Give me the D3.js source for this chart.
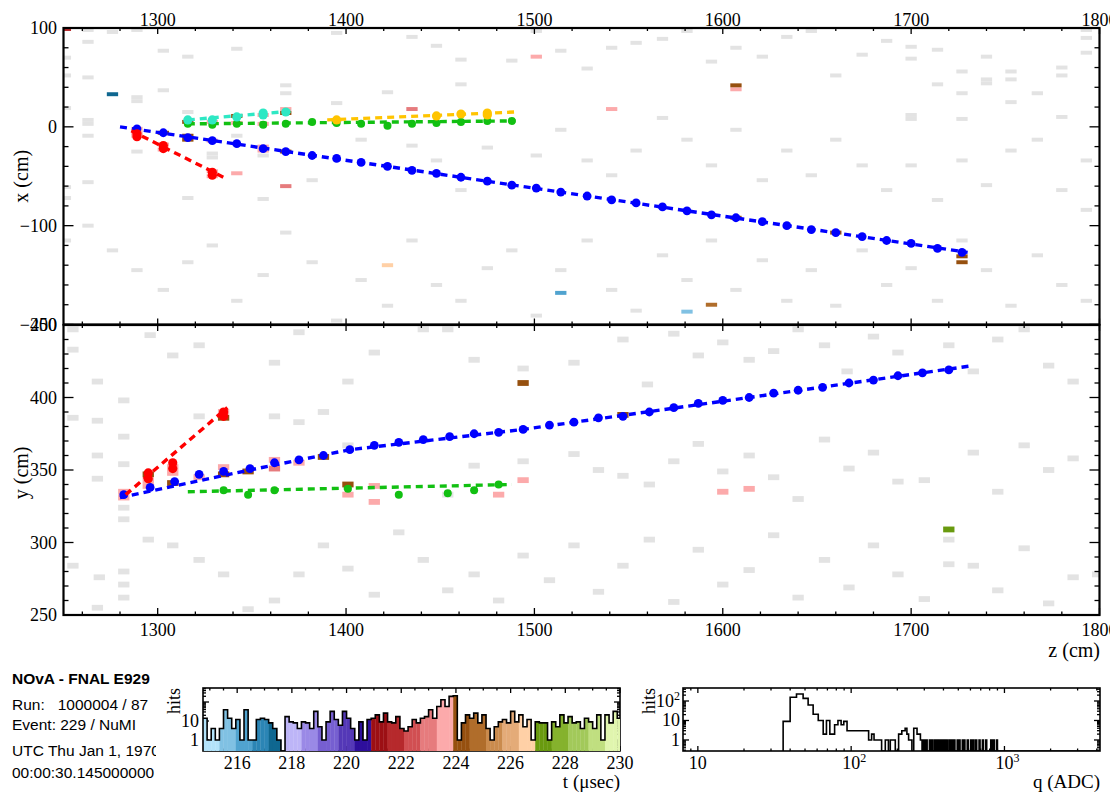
<!DOCTYPE html>
<html><head><meta charset="utf-8">
<script src="https://cdn.jsdelivr.net/npm/d3@7"></script>
<style>
body{margin:0;background:#fff}
svg{display:block}
text{font-family:"Liberation Serif","Times New Roman",serif;fill:#000}
.sans{font-family:"Liberation Sans",Arial,sans-serif;white-space:pre}
</style>
</head><body>
<svg id="c" width="1116" height="792"></svg>
<script>
// ---------------- DATA ----------------
const zTicksMajor = [1300,1400,1500,1600,1700,1800];
const xTicksMajor = [100,0,-100,-200];
const yTicksMajor = [250,300,350,400,450];
const tTicksMajor = [216,218,220,222,224,226,228,230];

// time colour bands (25 shades over the time window)
const timeColors = ["#b3e3fa","#80c1e3","#50a3cf","#2b85b5","#0f6790",
  "#bdb5f7","#9a89e6","#765fd1","#5438b7","#2e0f9c",
  "#9c0f14","#b6292c","#d14f52","#e67b7d","#fcaaab",
  "#96500f","#b06d2b","#ca8b4d","#e4ab78","#ffd0a6",
  "#699a0f","#85b22d","#a2c95a","#c0df80","#e0f5ae"];

// out-of-time (grey) hits, top view (z, x)
const grayTopZ = [1263,1263,1276,1289,1303,1316,1342,1368,1368,1263,1251,1251,1251,1263,1263,1263,1289,1289,1303,1316,1342,1329,1329,1289,1356,1251,1263,1316,1356,1251,1395,1395,1395,1435,1448,1461,1461,1488,1501,1514,1528,1541,1554,1568,1581,1594,1607,1621,1634,1647,1660,1674,1687,1700,1700,1714,1714,1727,1727,1740,1740,1740,1753,1753,1753,1767,1780,1780,1780,1793,1793,1793,1700,1700,1727,
 1382,1408,1422,1435,1448,1461,1475,1501,1514,1528,1541,1554,1568,1581,1594,1607,1621,1634,1647,1660,1674,1687,1700,1714,1727,1740,1753,1767,1780,1793,1793,
 1251,1263,1276,1289,1303,1316,1329,1342,1356,1368,1382,1395,1408,1422,1435,1448,1461,1475,1488,1501,1514,1528,1541,1554,1568,1581,1594,1607,1621,1634,1647,1660,1674,1687,1700,1714,1727,1740,1753,1767,1780,1793];
const grayTopX = [98,86,96,98,77,71,79,42,34,50,70,52,19,7,3,-9,30,26,37,15,-9,-27,-31,-25,-29,-61,-56,-72,-73,-72,24,7,95,91,82,68,43,67,97,77,59,80,85,89,97,66,80,71,91,97,52,73,87,81,69,78,43,56,34,71,48,44,56,48,25,34,60,52,10,98,90,75,12,8,8,
 -54,-13,35,-19,-34,-64,-21,-29,-3,-34,-49,-24,9,-13,-39,-3,-54,-24,-49,-13,-39,-64,-39,-74,-34,-59,-24,-13,-64,-34,-84,
 -115,-100,-125,-145,-165,-137,-120,-176,-150,-107,-137,-196,-155,-181,-115,-160,-176,-143,-125,-191,-145,-115,-165,-186,-130,-155,-115,-165,-135,-176,-145,-181,-125,-160,-143,-176,-115,-145,-181,-130,-160,-176];

// out-of-time (grey) hits, side view (z, y)
const grayBotZ = [1255,1255,1268,1268,1268,1268,1282,1282,1282,1282,1282,1255,1269,1282,1282,1268,1282,1322,1362,1375,1388,1401,1401,
 1255,1296,1308,1322,1362,1375,1415,1441,1454,1468,1494,1521,1547,1560,1574,1587,1600,1614,1627,1640,1654,1666,1680,1693,1720,1733,1746,1760,1773,1786,
 1454,1468,1494,1521,1534,1547,1561,1574,1587,1600,1614,1627,1640,1654,1667,1680,1693,1707,1733,1746,1760,1773,1786,1720,
 1295,1308,1322,1335,1348,1362,1375,1388,1401,1415,1428,1441,1454,1468,1481,1494,1508,1521,1534,1547,1561,1574,1587,1600,1614,1627,1640,1654,1667,1680,1693,1707,1733,1746,1760,1773,1786,1720,1799];
const grayBotY = [433,386,411,384,360,344,398,373,354,324,316,284,276,280,271,255,262,387,387,383,390,411,367,
 447,443,429,436,424,445,431,447,447,426,420,424,440,409,444,429,438,426,432,447,436,418,442,431,436,418,440,447,422,411,
 333,353,356,361,350,346,340,356,368,349,360,345,330,371,351,362,342,343,362,335,367,350,358,302,
 302,298,288,278,254,260,278,298,282,264,307,288,267,278,260,291,274,298,266,284,302,259,295,271,281,305,262,288,269,298,278,261,284,267,296,258,276,285,278];

// in-time hits with their time (usec), top view
const hitTopZ = [1276,1251,1501,1368,1316,1342,1356,1368,1329,1342,1356,1289,1289,1303,1316,1316,1329,1356,1356,1368,1607,1660,1727,1727,1289,1303,1303,1329,1329,1342,1368,1435,1541,1607,1607,1422,1514,1581,1594];
const hitTopX = [33,99,71,18,5,11,12,14,5,4,3,-2,-6,-6,-9,-13,-14,-20,-24,-25,-92,-107,-131,-137,-9,-18,-23,-45,-50,-47,-60,18,18,38,42,-140,-168,-187,-180];
const hitTopT = [217.7,221.8,223.6,223.6,224.2,224.2,223.6,224.2,223.6,223.6,223.6,223.6,223.6,224.2,224.2,224.2,223.6,223.6,223.6,224.2,224.2,224.2,224.2,224.2,223.6,223.6,223.6,223.6,223.6,223.6,223.0,223.0,223.6,223.6,224.2,226.6,216.4,215.8,224.8];

// in-time hits, side view
const hitBotZ = [1282,1282,1295,1295,1295,1308,1308,1308,1322,1335,1335,1335,1335,1348,1362,1362,1375,1388,1401,1401,1415,1415,1494,1494,1481,1600,1614,1720,1547];
const hitBotY = [335,331,347,343,339,352,348,341,345,347,352,386,390,349,357,351,355,359,340,333,339,328,410,343,333,335,337,309,388];
const hitBotT = [223.6,223.6,224.2,223.6,223.6,223.6,223.6,224.2,223.6,224.2,223.6,224.2,223.6,224.2,223.6,223.0,223.6,224.2,224.2,223.6,223.6,223.6,224.2,223.6,223.6,223.6,223.6,227.3,224.2];

// reconstructed tracks: trajectory points and the hits on them
const blueTopLineZ = [1280,1730], blueTopLineX = [0,-127];
const blueTopZ = [1289,1303,1316,1329,1342,1356,1368,1382,1395,1408,1422,1435,1448,1461,1475,1488,1501,1514,1528,1541,1554,1568,1581,1594,1607,1621,1634,1647,1660,1674,1687,1700,1714,1727];
const blueTopX = [-2,-6,-11,-14,-17,-22,-25,-29,-32,-36,-40,-44,-47,-51,-55,-59,-62,-66,-70,-74,-77,-81,-85,-89,-92,-96,-100,-104,-107,-111,-115,-118,-123,-127];
const redTopLineZ = [1286,1337], redTopLineX = [-4,-53];
const redTopZ = [1289,1289,1303,1303,1329,1329];
const redTopX = [-7,-10,-19,-22,-46,-49];
const greenTopLineZ = [1316,1490], greenTopLineX = [3,6];
const greenTopZ = [1316,1329,1342,1356,1368,1382,1395,1408,1422,1435,1448,1461,1475,1488];
const greenTopX = [3,2,3,2,3,5,4,3,1,3,4,5,6,6];
const cyanTopLineZ = [1316,1372], cyanTopLineX = [7,16];
const cyanTopZ = [1316,1329,1342,1356,1356,1368];
const cyanTopX = [7,7,10,12,14,15];
const goldTopLineZ = [1390,1490], goldTopLineX = [7,15];
const goldTopZ = [1395,1448,1461,1475,1475];
const goldTopX = [7,11,13,14,12];

const blueBotLineZ = [1280,1349,1402,1494,1614,1733], blueBotLineY = [331,350,364,378,400,422];
const blueBotZ = [1282,1296,1309,1322,1335,1349,1362,1375,1388,1402,1415,1428,1441,1455,1468,1481,1494,1508,1521,1534,1547,1561,1574,1587,1600,1614,1627,1640,1653,1667,1680,1693,1706,1720];
const blueBotY = [333,338,342,347,349,351,355,357,360,364,367,369,371,373,375,376,378,381,383,386,387,390,393,396,398,400,403,405,407,410,412,415,417,419];
const redBotLineZ = [1283,1337], redBotLineY = [333,393];
const redBotZ = [1295,1295,1308,1308,1335,1335];
const redBotY = [348,344,355,351,390,387];
const greenBotLineZ = [1316,1488], greenBotLineY = [335,340];
const greenBotZ = [1335,1348,1362,1401,1428,1454,1468,1481];
const greenBotY = [336,333,336,337,333,334,336,340];

// hit-time histogram: bin start, bin width, counts
const timeHistStart = 214.75, timeHistBinWidth = 0.15;
const timeCounts = [14,1,4,1,4,39,14,4,12,1,39,1,1,12,14,12,8,4,1,0,
 17,9,8,4,9,8,4,32,5,1,9,32,12,6,32,14,4,1,9,1,
 12,14,21,9,26,9,8,17,4,3,5,12,8,14,17,39,14,58,132,58,
 197,214,1,8,21,14,26,8,21,4,1,5,9,12,8,32,9,21,5,12,
 1,9,8,8,1,9,5,21,8,17,8,9,4,14,9,4,21,1,21,8,32,14];

// charge histogram: bins (ADC low edge, high edge, count)
const qLo = [36,40,44,48.6,52.4,56.5,61,65.7,69,72.6,78,82,86,89.5,94,130,136,141,167,180,204,214,225,231,237,256,269,283,297,310,
 324,337,351,364,379,392,402,417,434,451,468,492,505,531,544,572,602,623,649,683,718,755,814,844,887];
const qHi = [40,44,48.6,52.4,56.5,61,65.7,69,72.6,78,82,86,89.5,94,130,136,141,158,175,194,214,225,231,237,249,269,283,290,304,313,
 329,342,356,370,385,398,408,423,441,458,475,500,513,539,552,581,611,632,659,693,729,766,826,857,900];
const qCount = [9,155,230,137,62,21,10,2,10,2,6,10,6,9,3,1,2,1,1,1,2,3,4,2,1,4,2,1,1,1,
 1,1,1,1,1,1,1,1,1,1,1,1,1,1,1,1,1,1,1,1,1,1,1,1,1];

const infoLines = ["Run:   1000004 / 87","Event: 229 / NuMI","UTC Thu Jan 1, 1970","00:00:30.145000000"];

// ---------------- DRAW ----------------
const svg = d3.select("#c");
svg.append("rect").attr("width",1116).attr("height",792).attr("fill","#fff");
const defs = svg.append("defs");

const zS = d3.scaleLinear().domain([1250,1800]).range([63.5,1099.5]);
const xS = d3.scaleLinear().domain([-200,100]).range([324.5,28]);
const yS = d3.scaleLinear().domain([250,450]).range([615,325]);
const tColor = d3.scaleQuantize().domain([214.75,230]).range(timeColors);

defs.append("clipPath").attr("id","cTop").append("rect").attr("x",zS(1250)).attr("y",xS(100)).attr("width",zS(1800)-zS(1250)).attr("height",xS(-200)-xS(100));
defs.append("clipPath").attr("id","cBot").append("rect").attr("x",zS(1250)).attr("y",yS(450)).attr("width",zS(1800)-zS(1250)).attr("height",yS(250)-yS(450));
defs.append("clipPath").attr("id","cPage").append("rect").attr("x",0).attr("y",0).attr("width",1110).attr("height",792);

const gTop = svg.append("g").attr("clip-path","url(#cTop)");
const gBot = svg.append("g").attr("clip-path","url(#cBot)");

const DZ = 3, DC = 2; // half cell sizes (cm)
function drawHits(g, zs, vs, vScale, colorFn){
  g.selectAll(null).data(zs.map((d,i)=>({z:d,v:vs[i],i}))).enter().append("rect")
   .attr("x",d=>zS(d.z-DZ)).attr("width",d=>zS(d.z+DZ)-zS(d.z-DZ))
   .attr("y",d=>vScale(d.v+DC)).attr("height",d=>vScale(d.v-DC)-vScale(d.v+DC))
   .attr("fill",d=>colorFn(d));
}
drawHits(gTop, grayTopZ, grayTopX, xS, ()=>"#e3e3e3");
drawHits(gBot, grayBotZ, grayBotY, yS, ()=>"#e3e3e3");
drawHits(gTop, hitTopZ, hitTopX, xS, d=>tColor(hitTopT[d.i]));
drawHits(gBot, hitBotZ, hitBotY, yS, d=>tColor(hitBotT[d.i]));

function drawTrack(g, lz, lv, pz, pv, vScale, col, r){
  g.append("path").datum(lz.map((d,i)=>[d,lv[i]]))
   .attr("d",d3.line().x(d=>zS(d[0])).y(d=>vScale(d[1])))
   .attr("stroke",col).attr("stroke-width",3.4).attr("stroke-dasharray","7,5").attr("fill","none");
  g.selectAll(null).data(pz.map((d,i)=>[d,pv[i]])).enter().append("circle")
   .attr("cx",d=>zS(d[0])).attr("cy",d=>vScale(d[1])).attr("r",r).attr("fill",col);
}
drawTrack(gTop, blueTopLineZ, blueTopLineX, blueTopZ, blueTopX, xS, "#0000ff", 4.4);
drawTrack(gTop, redTopLineZ, redTopLineX, redTopZ, redTopX, xS, "#ff0000", 4.6);
drawTrack(gTop, greenTopLineZ, greenTopLineX, greenTopZ, greenTopX, xS, "#12c012", 4.0);
drawTrack(gTop, cyanTopLineZ, cyanTopLineX, cyanTopZ, cyanTopX, xS, "#2ee8c4", 4.6);
drawTrack(gTop, goldTopLineZ, goldTopLineX, goldTopZ, goldTopX, xS, "#ffc400", 4.6);
drawTrack(gBot, blueBotLineZ, blueBotLineY, blueBotZ, blueBotY, yS, "#0000ff", 4.4);
drawTrack(gBot, redBotLineZ, redBotLineY, redBotZ, redBotY, yS, "#ff0000", 4.6);
drawTrack(gBot, greenBotLineZ, greenBotLineY, greenBotZ, greenBotY, yS, "#12c012", 4.0);

// ---------- axes / frames ----------
const ax = svg.append("g").attr("stroke","#000").attr("fill","none");
function frame(x0,y0,x1,y1,w){
  ax.append("rect").attr("x",x0).attr("y",y0).attr("width",x1-x0).attr("height",y1-y0).attr("stroke-width",w);
}
function hTicks(scale, vals, y0, len, w){
  vals.forEach(v=>ax.append("line").attr("x1",scale(v)).attr("x2",scale(v)).attr("y1",y0).attr("y2",y0+len).attr("stroke-width",w||1.3));
}
function vTicks(scale, vals, x0, len, w){
  vals.forEach(v=>ax.append("line").attr("y1",scale(v)).attr("y2",scale(v)).attr("x1",x0).attr("x2",x0+len).attr("stroke-width",w||1.3));
}
const zMinor = d3.range(1260,1800,20).filter(v=>v%100!==0);
const xMinor = d3.range(-180,100,20).filter(v=>v%100!==0);
const yMinor = d3.range(260,450,10).filter(v=>v%50!==0);
const L=zS.range()[0], R=zS.range()[1];

frame(L, xS(100), R, xS(-200), 2.2);
frame(L, yS(450), R, yS(250), 2.2);
hTicks(zS, zTicksMajor, xS(100), 6); hTicks(zS, zMinor, xS(100), 3);
hTicks(zS, zTicksMajor, xS(-200), -6); hTicks(zS, zMinor, xS(-200), -3);
vTicks(xS, xTicksMajor, L, 10); vTicks(xS, xMinor, L, 5);
vTicks(xS, xTicksMajor, R, -10); vTicks(xS, xMinor, R, -5);
hTicks(zS, zTicksMajor, yS(250), -7); hTicks(zS, zMinor, yS(250), -3.5);
hTicks(zS, zTicksMajor, yS(450), 6); hTicks(zS, zMinor, yS(450), 3);
vTicks(yS, yTicksMajor, L, 10); vTicks(yS, yMinor, L, 5);
vTicks(yS, yTicksMajor, R, -10); vTicks(yS, yMinor, R, -5);

const tx = svg.append("g");
const txc = svg.append("g").attr("clip-path","url(#cPage)");
zTicksMajor.forEach(v=>{
  txc.append("text").attr("x",zS(v)).attr("y",26).attr("text-anchor","middle").attr("font-size",18).text(v);
  txc.append("text").attr("x",zS(v)).attr("y",636).attr("text-anchor","middle").attr("font-size",18).text(v);
});
xTicksMajor.forEach(v=>tx.append("text").attr("x",57).attr("y",xS(v)).attr("dy","0.35em").attr("text-anchor","end").attr("font-size",18).text(v<0?"\u2212"+(-v):v));
yTicksMajor.forEach(v=>tx.append("text").attr("x",57).attr("y",yS(v)).attr("dy","0.35em").attr("text-anchor","end").attr("font-size",18).text(v));
tx.append("text").attr("transform","translate(28,"+xS(-50)+") rotate(-90)").attr("text-anchor","middle").attr("font-size",20).text("x (cm)");
tx.append("text").attr("transform","translate(28,"+yS(348)+") rotate(-90)").attr("text-anchor","middle").attr("font-size",20).text("y (cm)");
tx.append("text").attr("x",1100).attr("y",657).attr("text-anchor","end").attr("font-size",20).text("z (cm)");

// ---------- info text ----------
defs.append("clipPath").attr("id","cTxt").append("rect").attr("x",0).attr("y",650).attr("width",156).attr("height",142);
const info = svg.append("g").attr("clip-path","url(#cTxt)");
info.append("text").attr("class","sans").attr("x",12).attr("y",684).attr("font-size",15.5).attr("font-weight","bold").text("NOvA - FNAL E929");
const infoY = [710,730,756,778];
infoLines.forEach((s,i)=>info.append("text").attr("class","sans").attr("x",12).attr("y",infoY[i]).attr("font-size",15.5).text(s));

// ---------- time histogram ----------
const hT = d3.scaleLinear().domain([214.75,230]).range([203,620]);
const hTy = d3.scaleLog().domain([0.264,546]).range([751,688]);
defs.append("clipPath").attr("id","cHT").append("rect").attr("x",203).attr("y",688).attr("width",417).attr("height",63);
const gHT = svg.append("g").attr("clip-path","url(#cHT)");
const tBins = timeCounts.map((c,i)=>({lo:timeHistStart+i*timeHistBinWidth, hi:timeHistStart+(i+1)*timeHistBinWidth, c}));
gHT.selectAll(null).data(tBins.filter(b=>b.c>0)).enter().append("rect")
  .attr("x",b=>hT(b.lo)).attr("width",b=>hT(b.hi)-hT(b.lo)+0.3)
  .attr("y",b=>hTy(b.c)).attr("height",b=>751-hTy(b.c))
  .attr("fill",b=>tColor((b.lo+b.hi)/2));
const tPts = [[tBins[0].lo,0.264]];
tBins.forEach(b=>{const c=Math.max(b.c,0.264); tPts.push([b.lo,c],[b.hi,c]);});
gHT.append("path").datum(tPts).attr("d",d3.line().x(d=>hT(d[0])).y(d=>hTy(d[1])))
  .attr("fill","none").attr("stroke","#000").attr("stroke-width",1.6);
ax.append("rect").attr("x",203).attr("y",688).attr("width",417).attr("height",63).attr("stroke-width",1.6);
const tMinor = d3.range(215,230,0.5).filter(v=>v%2!==0);
hTicks(hT, tTicksMajor, 751, -5); hTicks(hT, tMinor, 751, -2.5);
hTicks(hT, tTicksMajor, 688, 5); hTicks(hT, tMinor, 688, 2.5);
const logMaj = [1,10,100];
const logMinT = [0.3,0.4,0.5,0.6,0.7,0.8,0.9,2,3,4,5,6,7,8,9,20,30,40,50,60,70,80,90,200,300,400,500];
vTicks(hTy, logMaj, 203, 6); vTicks(hTy, logMinT, 203, 3);
vTicks(hTy, logMaj, 620, -6); vTicks(hTy, logMinT, 620, -3);
tTicksMajor.forEach(v=>tx.append("text").attr("x",hT(v)).attr("y",769).attr("text-anchor","middle").attr("font-size",18).text(v));
tx.append("text").attr("x",199).attr("y",hTy(10)).attr("dy","0.35em").attr("text-anchor","end").attr("font-size",18).text("10");
tx.append("text").attr("x",199).attr("y",hTy(1)).attr("dy","0.35em").attr("text-anchor","end").attr("font-size",18).text("1");
tx.append("text").attr("transform","translate(180,688) rotate(-90)").attr("text-anchor","end").attr("font-size",18).text("hits");
tx.append("text").attr("x",620).attr("y",788).attr("text-anchor","end").attr("font-size",19).text("t (\u03bcsec)");

// ---------- charge histogram ----------
const hQ = d3.scaleLog().domain([8,4200]).range([683,1100]);
const hQy = d3.scaleLog().domain([0.272,464]).range([751,688]);
defs.append("clipPath").attr("id","cHQ").append("rect").attr("x",683).attr("y",688).attr("width",417).attr("height",63);
const gHQ = svg.append("g").attr("clip-path","url(#cHQ)");
const qPts = [];
const ymin = 0.272;
qLo.forEach((lo,i)=>{
  if(i===0 || qHi[i-1] < lo){
    if(i>0) qPts.push([qHi[i-1],ymin]);
    qPts.push([lo,ymin]);
  }
  qPts.push([lo,qCount[i]],[qHi[i],qCount[i]]);
});
qPts.push([qHi[qHi.length-1],ymin],[4200,ymin]);
gHQ.append("path").datum(qPts).attr("d",d3.line().x(d=>hQ(d[0])).y(d=>hQy(d[1])))
  .attr("fill","none").attr("stroke","#000").attr("stroke-width",1.6);
ax.append("rect").attr("x",683).attr("y",688).attr("width",417).attr("height",63).attr("stroke-width",1.6);
const qMaj=[10,100,1000];
const qMin=[9,20,30,40,50,60,70,80,90,200,300,400,500,600,700,800,900,2000,3000,4000];
hTicks(hQ, qMaj, 751, -5); hTicks(hQ, qMin, 751, -2.5);
hTicks(hQ, qMaj, 688, 5); hTicks(hQ, qMin, 688, 2.5);
const logMinQ = [0.3,0.4,0.5,0.6,0.7,0.8,0.9,2,3,4,5,6,7,8,9,20,30,40,50,60,70,80,90,200,300,400];
vTicks(hQy, logMaj, 683, 6); vTicks(hQy, logMinQ, 683, 3);
vTicks(hQy, logMaj, 1100, -6); vTicks(hQy, logMinQ, 1100, -3);
function supLabel(x,y,anchor,base,exp){
  const t = tx.append("text").attr("x",x).attr("y",y).attr("text-anchor",anchor).attr("font-size",18);
  t.append("tspan").text(base);
  if(exp) t.append("tspan").attr("dy",-7).attr("font-size",12).text(exp);
  return t;
}
supLabel(hQ(10),769,"middle","10",null);
supLabel(hQ(100)+3,769,"middle","10","2");
supLabel(hQ(1000)+3,769,"middle","10","3");
supLabel(680,hQy(100)+6,"end","10","2");
supLabel(680,hQy(10)+6,"end","10",null);
supLabel(680,hQy(1)+6,"end","1",null);
tx.append("text").attr("transform","translate(655,688) rotate(-90)").attr("text-anchor","end").attr("font-size",18).text("hits");
tx.append("text").attr("x",1100).attr("y",788).attr("text-anchor","end").attr("font-size",19).text("q (ADC)");
</script>
</body></html>
